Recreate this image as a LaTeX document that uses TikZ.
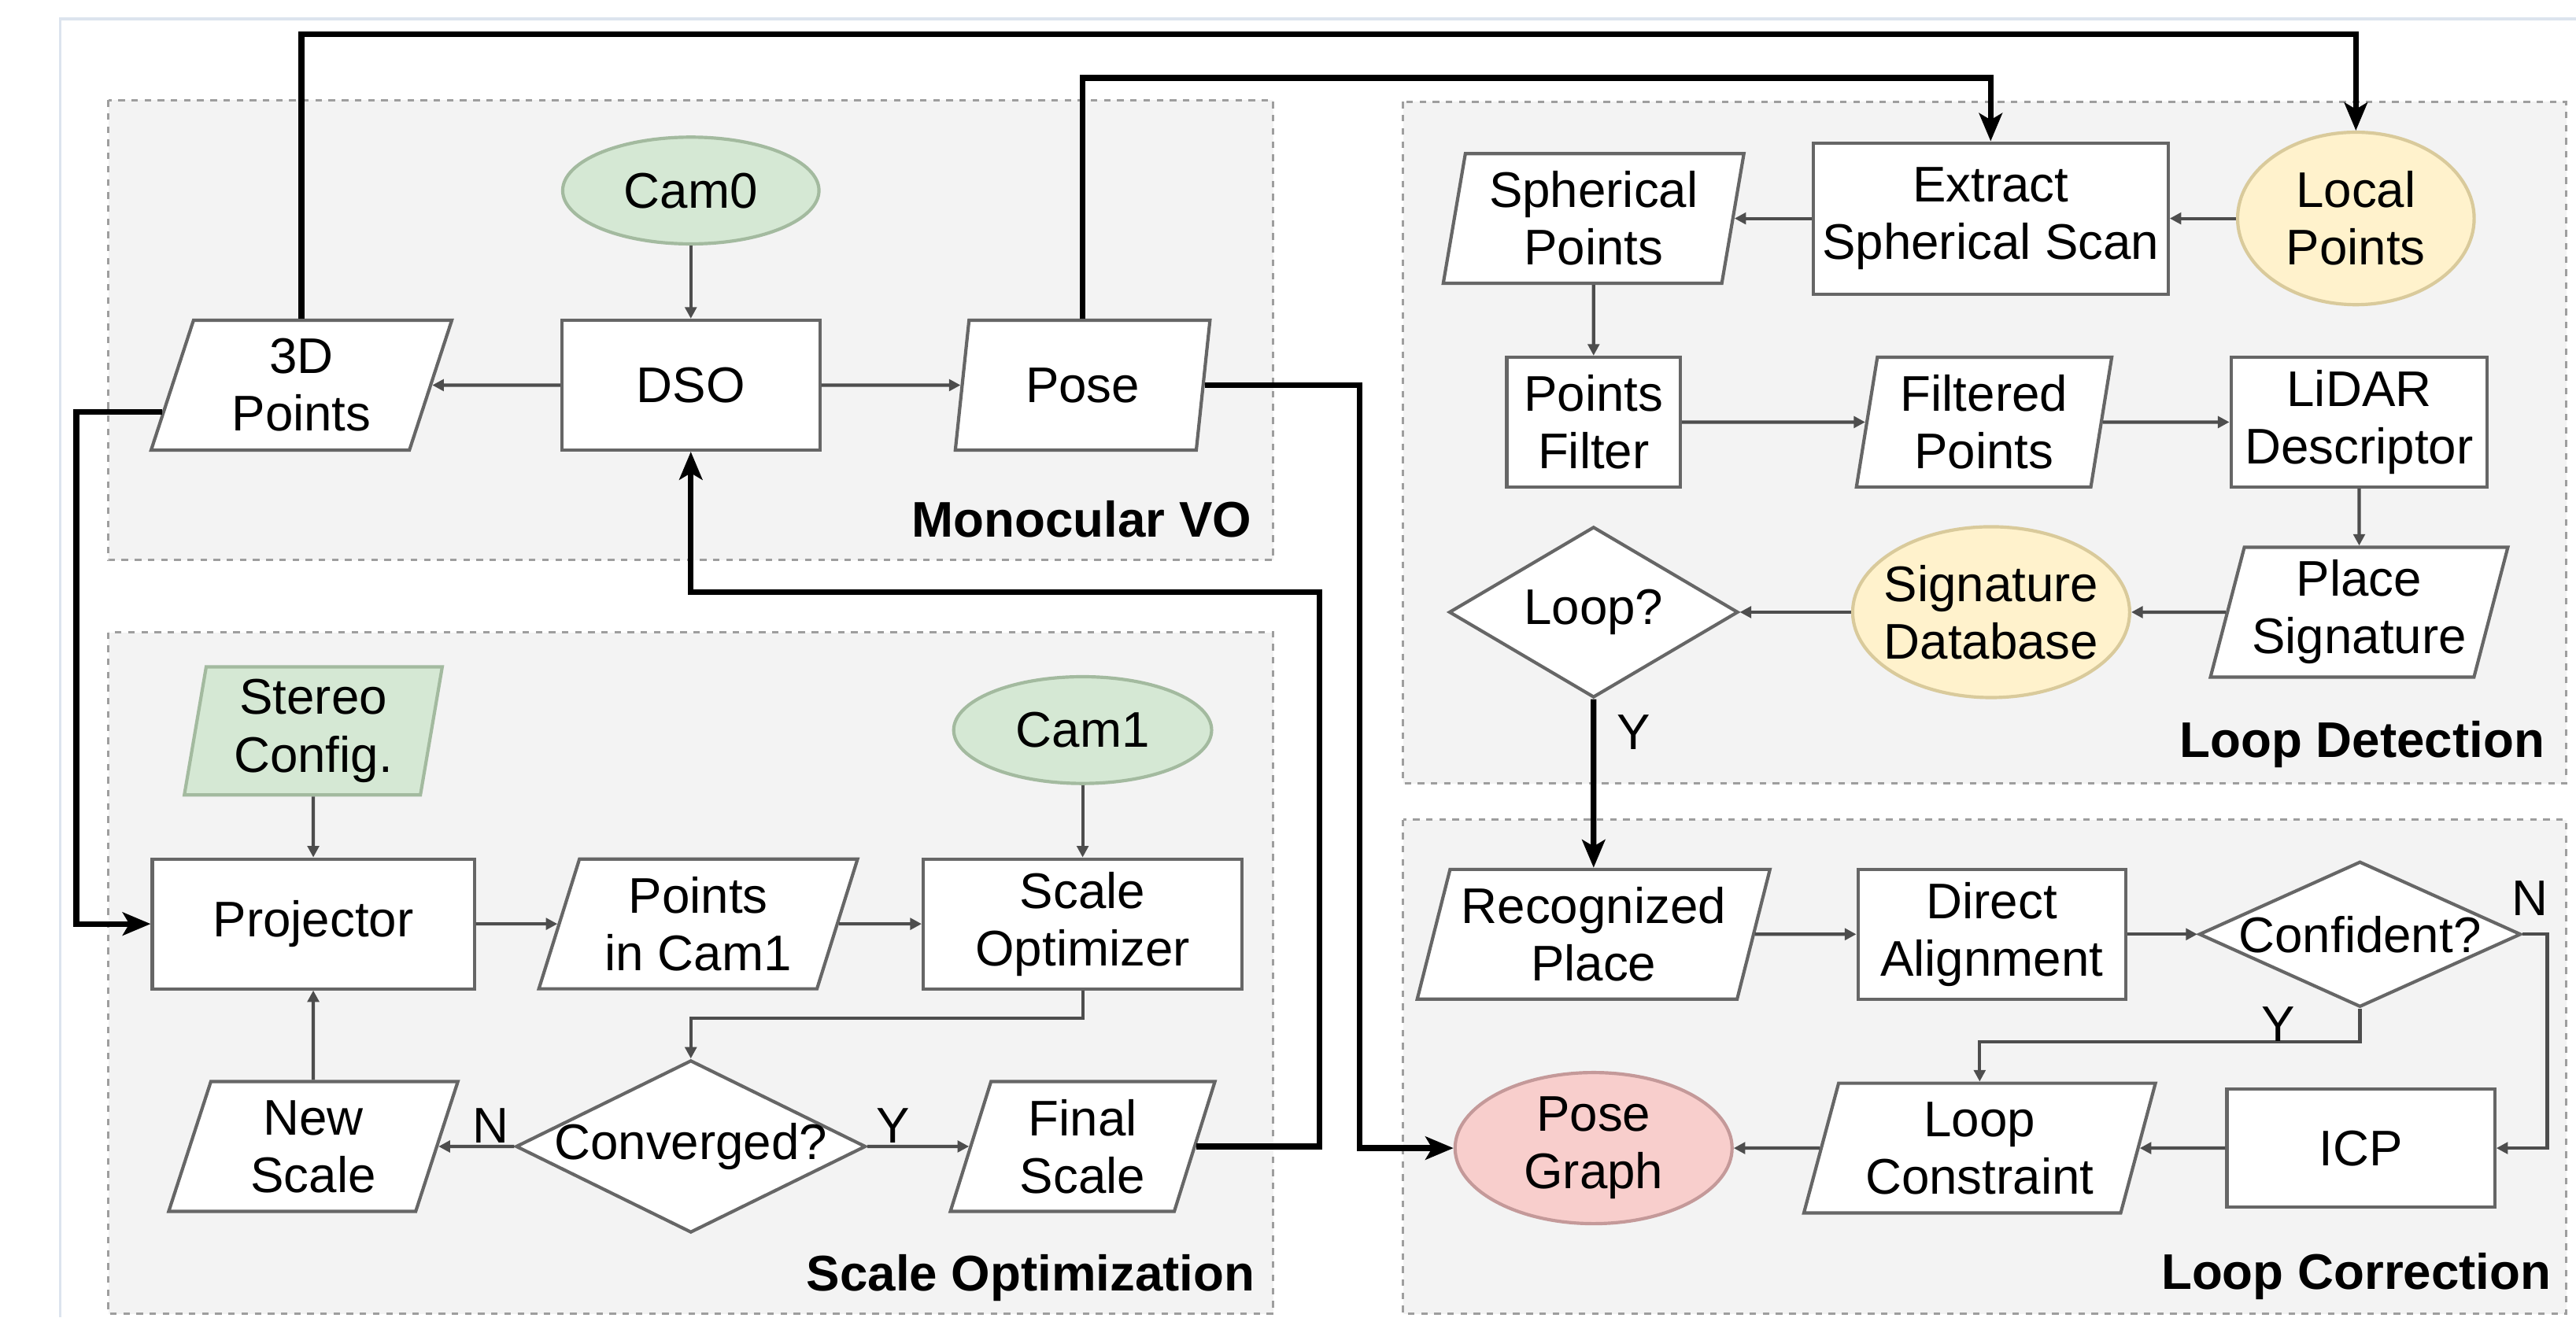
\documentclass[tikz,border=0pt]{standalone}
\usepackage{fontspec}
\setmainfont{Liberation Sans}
\usetikzlibrary{positioning, arrows.meta, shapes.geometric, calc}

\definecolor{framebl}{HTML}{DCE4EE}
\definecolor{panelfill}{HTML}{F3F3F3}
\definecolor{paneldash}{HTML}{9E9E9E}
\definecolor{nodeline}{HTML}{666666}
\definecolor{flowgray}{HTML}{4D4D4D}
\definecolor{camfill}{HTML}{D5E8D4}
\definecolor{camline}{HTML}{A3BA9F}
\definecolor{ptsfill}{HTML}{FFF2CC}
\definecolor{ptsline}{HTML}{D9CA9B}
\definecolor{graphfill}{HTML}{F8CECC}
\definecolor{graphline}{HTML}{C49999}

\tikzset{
  panel/.style={draw=paneldash, fill=panelfill, line width=1.5pt, dash pattern=on 4pt off 4pt},
  paneltitle/.style={anchor=base east, inner sep=0pt, font=\fontsize{30.5}{35}\selectfont\bfseries},
  proc/.style={rectangle, draw=nodeline, fill=white, line width=2pt, align=center, inner sep=0pt, minimum height=79pt},
  data/.code={\pgfmathsetmacro\slantangle{180-#1}%
    \pgfkeysalso{shape=trapezium, trapezium left angle=#1, trapezium right angle=\slantangle,
      trapezium stretches body, draw=nodeline, fill=white, line width=2pt, align=center,
      inner sep=0pt, minimum height=79pt}},
  data/.default=67,
  term/.style={ellipse, line width=2pt, align=center, inner sep=-12pt},
  camterm/.style={term, draw=camline, fill=camfill},
  ptsterm/.style={term, draw=ptsline, fill=ptsfill},
  graphterm/.style={term, draw=graphline, fill=graphfill},
  decide/.style={diamond, draw=nodeline, fill=white, line width=2pt, inner xsep=-20pt, inner ysep=0pt, aspect=2},
  flow/.style={draw=flowgray, line width=2pt, -{Triangle[length=7pt, width=7pt]}},
  bigflow/.style={draw=black, line width=3.5pt, -{Stealth[length=17pt, width=14pt, inset=4pt]}},
  yn/.style={inner sep=0pt}
}

\begin{document}
\begin{tikzpicture}[x=1pt, y=1pt, font=\fontsize{30.5}{35}\selectfont]
\useasboundingbox (0,0) rectangle (1568,-802);
\draw[framebl, line width=1.5pt] (1568,-11.5) -- (36.7,-11.5) -- (36.7,-802);

% panels
\draw[panel] (66,-61) rectangle (775,-341);
\draw[panel] (66,-385) rectangle (775,-800);
\draw[panel] (854,-62) rectangle (1562,-477);
\draw[panel] (854,-499) rectangle (1562,-800);
\node[paneltitle] (tvo) at (762,-327) {Monocular VO};
\node[paneltitle] (tscale) at (764,-786) {Scale Optimization};
\node[paneltitle] (tdetect) at (1549,-461) {Loop Detection};
\node[paneltitle] (tcorrect) at (1553,-785) {Loop Correction};

% monocular VO
\node[camterm, minimum width=156pt, minimum height=65pt] (cam0) at (420.5,-116) {Cam0};
\node[proc, minimum width=157pt] (dso) at (420.5,-234.5) {DSO};
\node[data=65.5, minimum width=183pt] (pts3d) at (183.5,-234.5) {3D\\Points};
\node[data=68.6, minimum width=155pt] (pose) at (659,-234.5) {Pose};

% scale optimization
\node[data=78, fill=camfill, draw=camline, minimum width=157pt, minimum height=78pt] (stereo) at (190.7,-445) {Stereo\\Config.};
\node[camterm, minimum width=157pt, minimum height=65pt] (cam1) at (659,-444.5) {Cam1};
\node[proc, minimum width=196pt] (proj) at (190.7,-562.5) {Projector};
\node[data=66.7, minimum width=194pt] (ptscam1) at (425,-562.5) {Points\\in Cam1};
\node[proc, minimum width=194pt] (scaleopt) at (659,-562.5) {Scale\\Optimizer};
\node[data=65.5, minimum width=176pt] (newscale) at (190.7,-698) {New\\Scale};
\node[decide, minimum width=213pt, minimum height=105pt] (conv) at (420.5,-698) {Converged?};
\node[data=66.7, minimum width=161pt] (finalscale) at (659,-698) {Final\\Scale};

% loop detection
\node[ptsterm, minimum width=144pt, minimum height=105pt] (localpts) at (1434,-133) {Local\\Points};
\node[proc, minimum width=216pt, minimum height=92pt] (extract) at (1211.7,-133) {Extract\\Spherical Scan};
\node[data=76.8, minimum width=183pt] (sphpts) at (970,-133) {Spherical\\Points};
\node[proc, minimum width=105.6pt] (ptsfilter) at (970,-257) {Points\\Filter};
\node[data=77.5, minimum width=155.4pt] (filtered) at (1207.7,-257) {Filtered\\Points};
\node[proc, minimum width=156pt] (lidar) at (1436,-257) {LiDAR\\Descriptor};
\node[data=72, minimum width=181pt] (placesig) at (1436,-372.7) {Place\\Signature};
\node[ptsterm, minimum width=168.6pt, minimum height=104pt] (sigdb) at (1212,-372.7) {Signature\\Database};
\node[decide, minimum width=176pt, minimum height=104pt] (loop) at (970,-372.7) {Loop?};

% loop correction
\node[data=70.8, minimum width=214.7pt] (recog) at (970,-568.8) {Recognized\\Place};
\node[proc, minimum width=163pt] (direct) at (1212.4,-568.8) {Direct\\Alignment};
\node[decide, minimum width=196pt, minimum height=88.6pt] (conf) at (1436.5,-568.8) {Confident?};
\node[graphterm, minimum width=168.6pt, minimum height=92pt] (posegraph) at (970,-699) {Pose\\Graph};
\node[data=69.4, minimum width=214pt] (lconstr) at (1205,-699) {Loop\\Constraint};
\node[proc, minimum width=163pt, minimum height=72pt] (icp) at (1437,-699) {ICP};

% thin connectors
\draw[flow] (cam0.south) -- (dso.north);
\draw[flow] (dso.west) -- (pts3d.east);
\draw[flow] (dso.east) -- (pose.west);
\draw[flow] (stereo.south) -- (proj.north);
\draw[flow] (proj.east) -- (ptscam1.west);
\draw[flow] (ptscam1.east) -- (scaleopt.west);
\draw[flow] (cam1.south) -- (scaleopt.north);
\draw[flow] (scaleopt.south) -- ++(0,-17) -| (conv.north);
\draw[flow] (conv.west) -- (newscale.east);
\draw[flow] (conv.east) -- (finalscale.west);
\draw[flow] (newscale.north) -- (proj.south);
\node[yn, anchor=south east] (nconv) at ([xshift=-3pt, yshift=2pt]conv.west) {N};
\node[yn, anchor=south west] (yconv) at ([xshift=5pt, yshift=2pt]conv.east) {Y};

\draw[flow] (localpts.west) -- (extract.east);
\draw[flow] (extract.west) -- (sphpts.east);
\draw[flow] (sphpts.south) -- (ptsfilter.north);
\draw[flow] (ptsfilter.east) -- (filtered.west);
\draw[flow] (filtered.east) -- (lidar.west);
\draw[flow] (lidar.south) -- (placesig.north);
\draw[flow] (placesig.west) -- (sigdb.east);
\draw[flow] (sigdb.west) -- (loop.east);

\draw[flow] (recog.east) -- (direct.west);
\draw[flow] (direct.east) -- (conf.west);
\draw[flow] (conf.east) -- ++(15,0) |- (icp.east);
\draw[flow] (conf.south) -- ++(0,-20.3) -| (lconstr.north);
\draw[flow] (icp.west) -- (lconstr.east);
\draw[flow] (lconstr.west) -- (posegraph.east);
\node[yn, anchor=south] (nconf) at ([xshift=4.6pt, yshift=11pt]conf.east) {N};
\node[yn, anchor=south] (yconf) at ($(conf.south)+(-49.5,-20)$) {Y};

% thick connectors
\coordinate (railA) at (0,-21);
\coordinate (railB) at (0,-47.5);
\coordinate (railC) at (46.4,0);
\coordinate (railD) at (827.6,0);
\coordinate (railE) at (803,-360.5);
\coordinate (pts3dout) at ($(pts3d.bottom left corner)!0.3!(pts3d.top left corner)$);
\draw[bigflow] (pts3d.north) -- (pts3d.north |- railA) -| (localpts.north);
\draw[bigflow] (pose.north) -- (pose.north |- railB) -| (extract.north);
\draw[bigflow] (pts3dout) -- (pts3dout -| railC) |- (proj.west);
\draw[bigflow] (pose.east) -- (pose.east -| railD) |- (posegraph.west);
\draw[bigflow] (finalscale.east) -| (railE) -| (dso.south);
\draw[bigflow] (loop.south) -- (recog.north);
\node[yn, anchor=west] (yloop) at ([xshift=14pt, yshift=-20pt]loop.south) {Y};
\end{tikzpicture}
\end{document}
